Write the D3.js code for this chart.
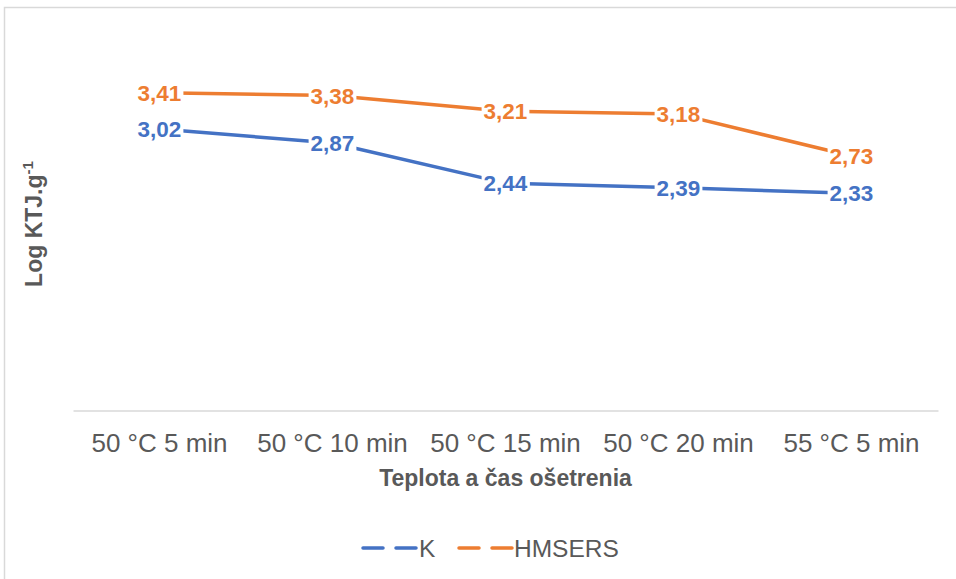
<!DOCTYPE html>
<html>
<head>
<meta charset="utf-8">
<script src="https://cdn.jsdelivr.net/npm/d3@7"></script>
<style>
  html, body { margin: 0; padding: 0; background: #fff; }
  svg { display: block; font-family: "Liberation Sans", Arial, sans-serif; }
</style>
</head>
<body>
<svg id="chart" width="956" height="579"></svg>
<script>
// Treatment categories (temperature and duration)
const categories = ["50 °C 5 min", "50 °C 10 min", "50 °C 15 min", "50 °C 20 min", "55 °C 5 min"];
// Log CFU per gram for each series
const seriesK = [3.02, 2.87, 2.44, 2.39, 2.33];
const seriesHMSERS = [3.41, 3.38, 3.21, 3.18, 2.73];
const seriesNames = ["K", "HMSERS"];
const seriesColors = ["#4472C4", "#ED7D31"];

const series = [
  { name: seriesNames[0], values: seriesK, color: seriesColors[0] },
  { name: seriesNames[1], values: seriesHMSERS, color: seriesColors[1] }
];

const svg = d3.select("#chart");
const W = 956, H = 579;
const plot = { left: 73, right: 938, top: 37.7, bottom: 410.5 };

// Outer chart frame
svg.append("rect")
  .attr("x", 4.5).attr("y", 7.5)
  .attr("width", W + 10).attr("height", H + 10)
  .attr("fill", "#fff").attr("stroke", "#d9d9d9").attr("stroke-width", 1.5);

const x = d3.scaleBand().domain(categories).range([plot.left, plot.right]);
const y = d3.scaleLinear().domain([0, 4]).range([plot.bottom, plot.top]);

// Category axis
const xAxis = svg.append("g")
  .attr("transform", `translate(0,${plot.bottom})`)
  .call(d3.axisBottom(x).tickSize(0).tickPadding(0));
xAxis.select(".domain").attr("stroke", "#d9d9d9").attr("stroke-width", 1.5);
xAxis.selectAll("text")
  .attr("dy", null)
  .attr("y", 41)
  .attr("fill", "#595959")
  .style("font-size", "26px")
  .style("font-family", "'Liberation Sans', Arial, sans-serif");

// Axis titles
svg.append("text")
  .attr("x", (plot.left + plot.right) / 2 + 0)
  .attr("y", 486)
  .attr("text-anchor", "middle")
  .attr("fill", "#595959")
  .style("font-size", "23px").style("font-weight", "bold")
  .text("Teplota a čas ošetrenia");

const yTitle = svg.append("text")
  .attr("transform", "translate(42,224) rotate(-90)")
  .attr("text-anchor", "middle")
  .attr("fill", "#595959")
  .style("font-size", "23px").style("font-weight", "bold");
yTitle.append("tspan").text("Log KTJ.g");
yTitle.append("tspan").attr("dy", -9).style("font-size", "15px").text("-1");

// Series lines
const line = d3.line()
  .x((d, i) => x(categories[i]) + x.bandwidth() / 2)
  .y(d => y(d));

svg.append("g").selectAll("path")
  .data(series)
  .join("path")
  .attr("d", d => line(d.values))
  .attr("fill", "none")
  .attr("stroke", d => d.color)
  .attr("stroke-width", 3.5)
  .attr("stroke-linejoin", "round");

// Value labels centred on points, with a white backing
const fmt = v => d3.format(".2f")(v).replace(".", ",");
series.forEach(s => {
  const g = svg.append("g");
  s.values.forEach((v, i) => {
    const cx = x(categories[i]) + x.bandwidth() / 2;
    const cy = y(v);
    const lg = g.append("g");
    const t = lg.append("text")
      .attr("x", cx).attr("y", cy)
      .attr("dy", "0.36em")
      .attr("text-anchor", "middle")
      .attr("fill", s.color)
      .style("font-size", "22.5px").style("font-weight", "bold")
      .text(fmt(v));
    const bb = t.node().getBBox();
    lg.insert("rect", "text")
      .attr("x", bb.x - 2).attr("y", bb.y + 2)
      .attr("width", bb.width + 4).attr("height", bb.height - 4)
      .attr("fill", "#fff");
  });
});

// Legend
const legendY = 548;
const legendItems = [
  { s: series[0], x0: 363, x1: 418 },
  { s: series[1], x0: 459, x1: 513 }
];
legendItems.forEach(({ s, x0, x1 }) => {
  svg.append("line")
    .attr("x1", x0).attr("x2", x1)
    .attr("y1", legendY).attr("y2", legendY)
    .attr("stroke", s.color).attr("stroke-width", 3.5)
    .attr("stroke-dasharray", "20,13")
    .attr("stroke-linecap", "round");
  svg.append("text")
    .attr("x", x1 + 1).attr("y", legendY)
    .attr("dy", "0.36em")
    .attr("fill", "#595959")
    .style("font-size", "24.5px")
    .text(s.name);
});
</script>
</body>
</html>
